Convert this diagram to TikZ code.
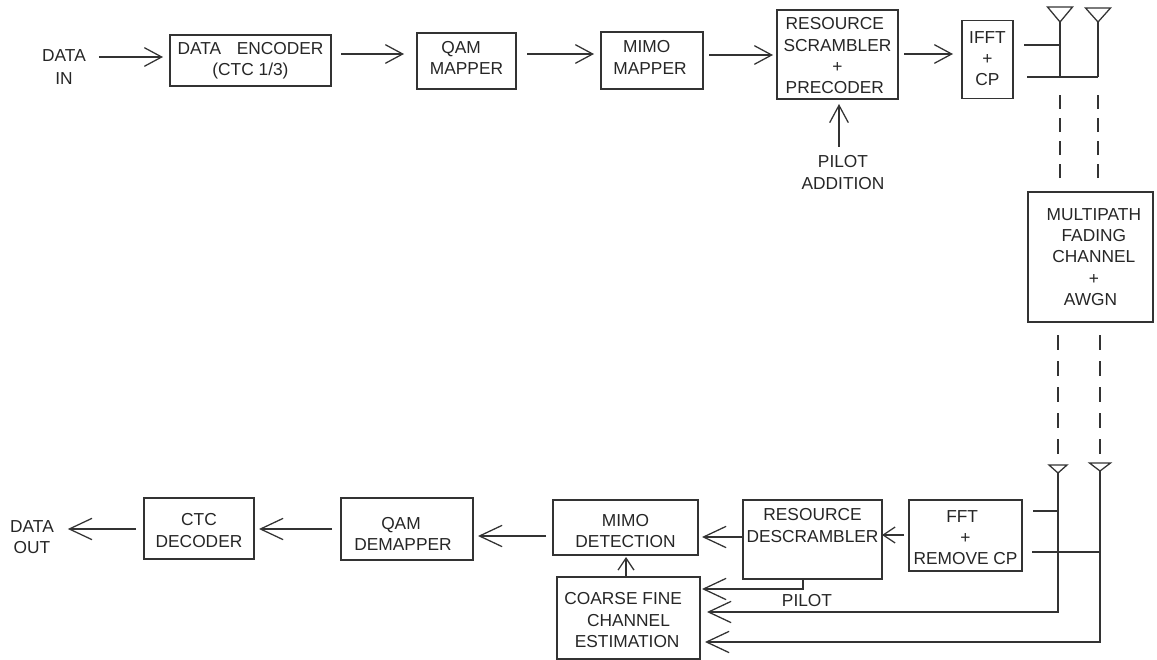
\documentclass[tikz,border=0pt]{standalone}
\usepackage{fontspec}
\setmainfont{Liberation Sans}
\usetikzlibrary{calc,arrows.meta}

\newcommand{\topgap}[1]{\rule{0pt}{#1}}

\begin{document}
\begin{tikzpicture}[x=0.75pt, y=-0.75pt,
  box/.style={draw=black!80, line width=0.95pt, align=center, inner sep=0pt, outer sep=0pt},
  txt/.style={align=center, inner sep=0pt, outer sep=0pt},
  wire/.style={line width=0.95pt, draw=black!80},
  sig/.style={wire, -{Straight Barb[length=13pt,width=14pt]}},
  sigsmall/.style={wire, -{Straight Barb[length=9pt,width=12pt]}},
  sigback/.style={wire, -{Straight Barb[length=0.01pt,width=0.01pt,line width=0pt,sep=-6pt] Straight Barb[length=17pt,width=16pt]}},
  radiotx/.style={wire, dash pattern=on 10.5pt off 6.75pt},
  radiorx/.style={wire, dash pattern=on 11.25pt off 8.25pt},
  lift/.style={execute at end node={\rule[-#1]{0pt}{#1}}},
  every node/.style={font=\fontsize{13}{16}\selectfont, text=black!85}]

\useasboundingbox (0,0) rectangle (1157,660);

% Transmitter
\node[txt] (datain) at (64,67.5) {DATA\\[1.2pt]IN};
\node[box, minimum width=120.75pt, minimum height=38.25pt] (encoder) at (250.5,60.5) {DATA\hspace{0.9em}ENCODER\\(CTC 1/3)};
\node[box, minimum width=74.25pt, minimum height=42pt, lift=4.5pt] (qammapper) at (466.5,61) {QAM\hspace*{8pt}\\MAPPER};
\node[box, minimum width=76.5pt, minimum height=42.75pt, lift=4.5pt] (mimomapper) at (652,60.5) {MIMO\hspace*{8pt}\\MAPPER\hspace*{3pt}};
\node[box, minimum width=90.75pt, minimum height=66.75pt] (scrambler) at (837.5,54.5) {\topgap{11pt}RESOURCE\hspace*{4pt}\\SCRAMBLER\hspace*{4pt}\\+\hspace*{4pt}\\PRECODER\hspace*{4pt}};
\node[box, minimum width=38.25pt, minimum height=58.5pt, lift=1.5pt] (ifft) at (987.5,59.5) {IFFT\\+\\CP};
\node[txt] (pilotadd) at (843,172.5) {PILOT\\ADDITION};

% Channel
\node[box, minimum width=93.75pt, minimum height=97.5pt] (channel) at (1090.5,257) {\hspace*{5pt}MULTIPATH\\\hspace*{5pt}FADING\\\hspace*{5pt}CHANNEL\\\hspace*{5pt}+\\AWGN};

% Receiver
\node[box, minimum width=84.75pt, minimum height=53.25pt] (fft) at (965.5,535.5) {\topgap{12.3pt}FFT\hspace*{5pt}\\+\hspace*{4pt}\\REMOVE CP};
\node[box, minimum width=104.25pt, minimum height=59.25pt, lift=21pt] (descrambler) at (812.5,539.5) {RESOURCE\\DESCRAMBLER};
\node[box, minimum width=108.75pt, minimum height=41.25pt] (mimodet) at (625.5,527.5) {\topgap{14.5pt}MIMO\\DETECTION};
\node[box, minimum width=107.25pt, minimum height=61.5pt] (estimation) at (628.5,618) {\topgap{12.3pt}COARSE FINE\hspace*{8pt}\\CHANNEL\hspace*{2pt}\\ESTIMATION\hspace*{2pt}};
\node[box, minimum width=99pt, minimum height=46.5pt] (qamdemapper) at (407,529) {\topgap{16pt}QAM\hspace*{9pt}\\DEMAPPER\hspace*{6pt}};
\node[box, minimum width=82.5pt, minimum height=45.75pt] (ctcdecoder) at (199,528.5) {\topgap{12.3pt}CTC\\DECODER};
\node[txt] (dataout) at (32,537) {DATA\\OUT};
\node[txt] (pilotlabel) at (807,601) {PILOT};

% Antennas
\foreach \ant/\xm/\ytop/\yapex/\half in {txa/1060/7/22/12.5, txb/1098/8/22/12.5, rxa/1058/465/473/9, rxb/1100/463/471/10.5}{
  \coordinate (\ant) at (\xm,\yapex);
  \draw[wire] ($(\ant)+(-\half,\ytop-\yapex)$) -- ($(\ant)+(\half,\ytop-\yapex)$) -- (\ant) -- cycle;
}

% Helper points on the masts
\coordinate (txajoin) at (1060,45);
\coordinate (txafoot) at (1060,77);
\coordinate (txbfoot) at (1098,77);
\coordinate (rxajoin) at (1058,511);
\coordinate (rxbjoin) at (1100,552);
\coordinate (rxafoot) at (1058,612);
\coordinate (rxbfoot) at (1100,642);

% Forward path
\draw[sig] ($(datain.east)+(13,-10.5)$) -- ($(encoder.west)+(-7,-3.5)$);
\draw[sig] ($(encoder.east)+(10,-6.5)$) -- ($(qammapper.west)+(-13,-7)$);
\draw[sig] ($(qammapper.east)+(11,-7)$) -- ($(mimomapper.west)+(-7,-6.5)$);
\draw[sig] ($(mimomapper.east)+(6,-5.5)$) -- ($(scrambler.west)+(-4,0.5)$);
\draw[sig] ($(pilotadd.north)+(-4,-9)$) -- ($(scrambler.south)+(1.5,5)$);
\draw[sig] ($(scrambler.east)+(6,-0.5)$) -- ($(ifft.west)+(-9,-5.5)$);

% Transmit antennas
\draw[wire] (txa) -- (txafoot);
\draw[wire] (txb) -- (txbfoot);
\draw[wire] ($(ifft.east)+(11,-14.5)$) -- (txajoin);
\draw[wire] ($(ifft.east)+(14,17.5)$) -- (txbfoot);
\draw[radiotx] ($(channel.north -| txa)+(0,-14)$) -- ($(txafoot)+(0,18)$);
\draw[radiotx] ($(channel.north -| txb)+(0,-14)$) -- ($(txbfoot)+(0,18)$);

% Receive antennas
\draw[radiorx] ($(channel.south -| rxa)+(0,13)$) -- ($(rxa)+(0,-18)$);
\draw[radiorx] ($(channel.south -| rxb)+(0,13)$) -- ($(rxb)+(0,-16)$);
\draw[wire] ($(fft.east)+(11,-24.5)$) -- (rxajoin);
\draw[wire] ($(fft.east)+(10,16.5)$) -- (rxbjoin);

% Return path
\draw[sigsmall] ($(fft.west)+(-5,-0.5)$) -- ($(descrambler.east)+(0,-4.5)$);
\draw[sigback] ($(descrambler.west)+(0,-2.5)$) -- ($(mimodet.east)+(4,9.5)$);
\draw[sigback] ($(mimodet.west)+(-7,8.5)$) -- ($(qamdemapper.east)+(5,7)$);
\draw[sigback] ($(qamdemapper.west)+(-9,0)$) -- ($(ctcdecoder.east)+(5,0.5)$);
\draw[sigback] ($(ctcdecoder.west)+(-8,0.5)$) -- ($(dataout.east)+(14,-8)$);
\draw[sigsmall] ($(estimation.north)+(-2.5,0)$) -- ($(mimodet.south)+(0.5,2)$);
\draw[sigback] ($(descrambler.south)+(-9.5,0)$) -- ++(0,10) -- ($(estimation.east)+(2,-29)$);
\draw[sigback] (rxa) -- (rxafoot) -- ($(estimation.east)+(7,-6)$);
\draw[sigback] (rxb) -- (rxbfoot) -- ($(estimation.east)+(5,24)$);

\end{tikzpicture}
\end{document}
